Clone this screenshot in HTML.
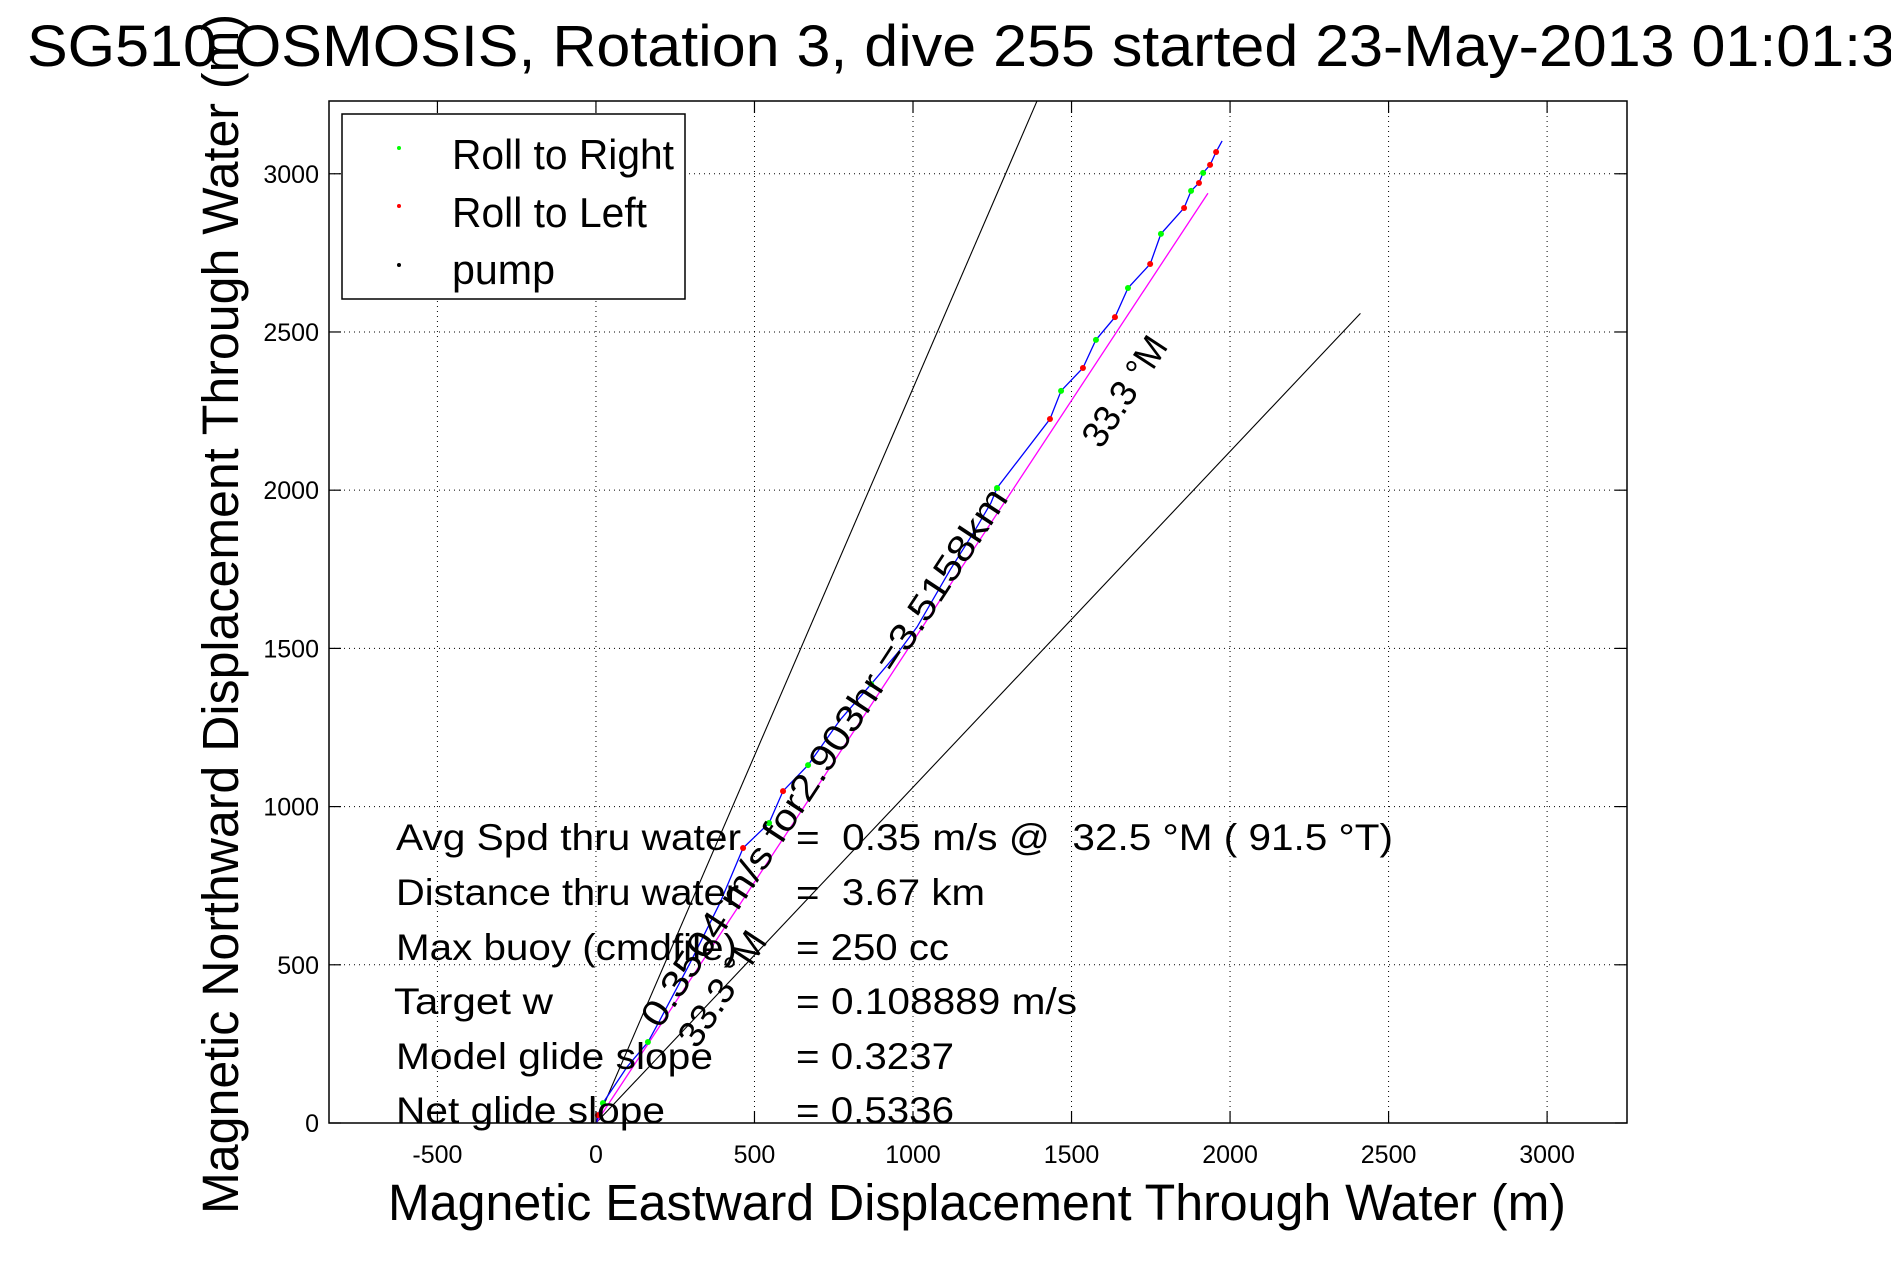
<!DOCTYPE html>
<html><head><meta charset="utf-8">
<style>
html,body{margin:0;padding:0;background:#fff;}
svg{display:block;font-family:"Liberation Sans",sans-serif;}
</style></head>
<body>
<svg id="chart" width="1891" height="1262" viewBox="0 0 1891 1262" xmlns="http://www.w3.org/2000/svg">
<rect x="0" y="0" width="1891" height="1262" fill="#fff"/>
<g id="grid"></g>
<g id="marks"></g>
<rect x="329" y="101" width="1298" height="1022" fill="none" stroke="#000" stroke-width="1.5"/>
<g id="ticks"></g>
<text x="27" y="66" font-size="58" textLength="1868" lengthAdjust="spacingAndGlyphs">SG510 OSMOSIS, Rotation 3, dive 255 started 23-May-2013 01:01:3</text>
<text x="388" y="1220" font-size="51" textLength="1178" lengthAdjust="spacingAndGlyphs">Magnetic Eastward Displacement Through Water (m)</text>
<text transform="translate(238,1214) rotate(-90)" x="0" y="0" font-size="51" textLength="1200" lengthAdjust="spacingAndGlyphs">Magnetic Northward Displacement Through Water (m)</text>
<g>
<rect x="342" y="114" width="343" height="185" fill="#fff" stroke="#000" stroke-width="1.5"/>
<circle cx="399" cy="148" r="2" fill="#00ff00"/>
<text x="452" y="169" font-size="42" textLength="222" lengthAdjust="spacingAndGlyphs">Roll to Right</text>
<circle cx="399" cy="206" r="2" fill="#ff0000"/>
<text x="452" y="227" font-size="42" textLength="195" lengthAdjust="spacingAndGlyphs">Roll to Left</text>
<circle cx="399" cy="265" r="2" fill="#000"/>
<text x="452" y="284" font-size="42" textLength="103" lengthAdjust="spacingAndGlyphs">pump</text>
</g>
<g font-size="37">
<text x="396" y="850" textLength="345" lengthAdjust="spacingAndGlyphs">Avg Spd thru water</text>
<text x="796" y="850" xml:space="preserve" textLength="597" lengthAdjust="spacingAndGlyphs">=  0.35 m/s @  32.5 °M ( 91.5 °T)</text>
<text x="396" y="905" textLength="343" lengthAdjust="spacingAndGlyphs">Distance thru water</text>
<text x="796" y="905" xml:space="preserve" textLength="189" lengthAdjust="spacingAndGlyphs">=  3.67 km</text>
<text x="396" y="960" textLength="341" lengthAdjust="spacingAndGlyphs">Max buoy (cmdfile)</text>
<text x="796" y="960" textLength="153" lengthAdjust="spacingAndGlyphs">= 250 cc</text>
<text x="394" y="1014" textLength="159" lengthAdjust="spacingAndGlyphs">Target w</text>
<text x="796" y="1014" textLength="281" lengthAdjust="spacingAndGlyphs">= 0.108889 m/s</text>
<text x="396" y="1069" textLength="317" lengthAdjust="spacingAndGlyphs">Model glide slope</text>
<text x="796" y="1069" textLength="158" lengthAdjust="spacingAndGlyphs">= 0.3237</text>
<text x="396" y="1123" textLength="269" lengthAdjust="spacingAndGlyphs">Net glide slope</text>
<text x="796" y="1123" textLength="158" lengthAdjust="spacingAndGlyphs">= 0.5336</text>
</g>
<g font-size="37">
<text transform="translate(660,1030) rotate(-56.7)" textLength="636" lengthAdjust="spacingAndGlyphs">0.3504 m/s for2.903hr =3.5158km</text>
<text transform="translate(697,1050) rotate(-56.7)" textLength="130" lengthAdjust="spacingAndGlyphs">33.3 °M</text>
<text transform="translate(1101,450) rotate(-56.7)" textLength="124" lengthAdjust="spacingAndGlyphs">33.3 °M</text>
</g>
</svg>
<script>
const xTicks = [-500, 0, 500, 1000, 1500, 2000, 2500, 3000];
const yTicks = [0, 500, 1000, 1500, 2000, 2500, 3000];
const trackX = [3, 6, 22, 98, 164, 202, 297, 391, 464, 546, 590, 669, 770, 868, 959, 1013, 1117, 1196, 1246, 1265, 1432, 1467, 1536, 1577, 1637, 1678, 1748, 1782, 1855, 1877, 1902, 1915, 1937, 1956, 1975];
const trackY = [3, 25, 63, 177, 256, 326, 506, 695, 869, 948, 1049, 1131, 1274, 1387, 1495, 1568, 1748, 1874, 1960, 2007, 2225, 2314, 2386, 2475, 2547, 2639, 2715, 2810, 2892, 2946, 2971, 3003, 3028, 3069, 3104];
const trackRoll = ['n','L','R','n','R','n','n','n','L','R','L','R','n','R','n','n','n','n','n','R','L','R','L','R','L','R','L','R','L','R','L','R','L','L','n'];
const heading = 33.3;
const spread = 10;
const distanceKm = 3.5158;

const NS = 'http://www.w3.org/2000/svg';
const X0 = 329, X1 = 1627, Y0 = 1123, Y1 = 101;
const xMin = -842, xMax = 3252, yMin = 0, yMax = 3230;
function sx(v){ return X0 + (v - xMin) / (xMax - xMin) * (X1 - X0); }
function sy(v){ return Y0 - (v - yMin) / (yMax - yMin) * (Y0 - Y1); }
function mk(tag, attrs, parent){ const e = document.createElementNS(NS, tag); for (const k in attrs) e.setAttribute(k, attrs[k]); parent.appendChild(e); return e; }

const grid = document.getElementById('grid');
const ticks = document.getElementById('ticks');
const marks = document.getElementById('marks');

xTicks.forEach(t => {
  const x = sx(t);
  const g = mk('line', {x1:x, y1:Y1, x2:x, y2:Y0, stroke:'#000', 'stroke-width':1, 'stroke-dasharray':'1 4'}, grid);
  
  
  const a = mk('line', {x1:x, y1:Y0, x2:x, y2:Y0-12, stroke:'#000', 'stroke-width':1.2}, ticks);
  
  
  const b = mk('line', {x1:x, y1:Y1, x2:x, y2:Y1+12, stroke:'#000', 'stroke-width':1.2}, ticks);
  
  
  const l = mk('text', {x:x, y:1163, 'font-size':25, 'text-anchor':'middle'}, ticks);
  l.textContent = t;
  
  
});
yTicks.forEach(t => {
  const y = sy(t);
  const g = mk('line', {x1:X0, y1:y, x2:X1, y2:y, stroke:'#000', 'stroke-width':1, 'stroke-dasharray':'1 4'}, grid);
  
  
  const a = mk('line', {x1:X0, y1:y, x2:X0+12, y2:y, stroke:'#000', 'stroke-width':1.2}, ticks);
  
  
  const b = mk('line', {x1:X1, y1:y, x2:X1-12, y2:y, stroke:'#000', 'stroke-width':1.2}, ticks);
  
  
  const l = mk('text', {x:319, y:y+9, 'font-size':25, 'text-anchor':'end'}, ticks);
  l.textContent = t;
  
  
});

const dist = distanceKm * 1000;
[heading - spread, heading + spread].forEach((h, i) => {
  const r = h * Math.PI / 180;
  let ex = dist * Math.sin(r), ey = dist * Math.cos(r);
  if (ey > yMax) { const f = yMax / ey; ex *= f; ey *= f; }
  const ln = mk('line', {x1:sx(0), y1:sy(0), x2:sx(ex), y2:sy(ey), stroke:'#000', 'stroke-width':1.1}, marks);
  
  
});
{
  const r = heading * Math.PI / 180;
  const ln = mk('line', {x1:sx(0), y1:sy(0), x2:sx(dist*Math.sin(r)), y2:sy(dist*Math.cos(r)), stroke:'#ff00ff', 'stroke-width':1.3}, marks);
  
  
}
const pts = trackX.map((v, i) => sx(v).toFixed(1) + ',' + sy(trackY[i]).toFixed(1)).join(' ');
const tr = mk('polyline', {points:pts, fill:'none', stroke:'#0000ff', 'stroke-width':1.3}, marks);


trackX.forEach((v, i) => {
  const role = trackRoll[i];
  if (role === 'n') return;
  const c = mk('circle', {cx:sx(v), cy:sy(trackY[i]), r:3, fill: role === 'R' ? '#00ff00' : '#ff0000'}, marks);
  
  
});
</script>
</body></html>
